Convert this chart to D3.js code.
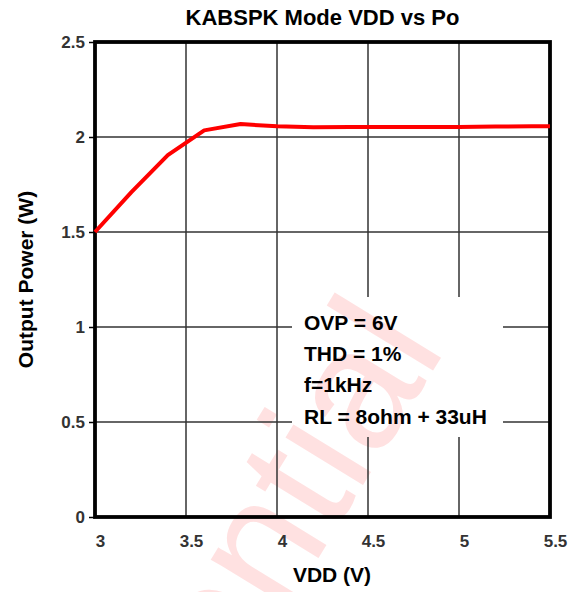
<!DOCTYPE html>
<html>
<head>
<meta charset="utf-8">
<script src="https://cdn.jsdelivr.net/npm/d3@7"></script>
<style>
  html, body { margin: 0; padding: 0; background: #fff; }
  svg { display: block; }
  text { font-family: "Liberation Sans", Arial, sans-serif; }
</style>
</head>
<body>
<div id="chart"></div>
<script>
// ---- data ----
const vdd = [3.0, 3.2, 3.4, 3.6, 3.8, 4.0, 4.2, 4.4, 4.6, 4.8, 5.0, 5.2, 5.4, 5.5];
const po  = [1.50, 1.71, 1.905, 2.035, 2.068, 2.056, 2.051, 2.052, 2.053, 2.053, 2.052, 2.055, 2.056, 2.056];
const xTicks = [3, 3.5, 4, 4.5, 5, 5.5];
const xTickLabels = ["3", "3.5", "4", "4.5", "5", "5.5"];
const yTicks = [0, 0.5, 1, 1.5, 2, 2.5];
const yTickLabels = ["0", "0.5", "1", "1.5", "2", "2.5"];
const title = "KABSPK Mode VDD vs Po";
const xTitle = "VDD (V)";
const yTitle = "Output Power (W)";
const notes = ["OVP = 6V", "THD = 1%", "f=1kHz", "RL = 8ohm + 33uH"];
const watermark = "Confidential";

// ---- layout ----
const W = 575, H = 592;
const L = 95, R = 550, T = 42, B = 517;

const svg = d3.select("#chart").append("svg")
  .attr("width", W).attr("height", H);

const x = d3.scaleLinear().domain([3, 5.5]).range([L, R]);
const y = d3.scaleLinear().domain([0, 2.5]).range([B, T]);

// annotation box region
const box = {x0: 292, x1: 503, y0: 297, y1: 437};

// watermark (behind everything)
svg.append("text")
  .attr("transform", "translate(447,348) rotate(-58.5)")
  .attr("text-anchor", "end")
  .style("font-size", "172px")
  .attr("fill", "#ffe1e1")
  .text(watermark);

// mask for gridlines (hidden behind annotation box)
const defs = svg.append("defs");
const mask = defs.append("mask").attr("id", "gridMask");
mask.append("rect").attr("x", 0).attr("y", 0).attr("width", W).attr("height", H).attr("fill", "#fff");
mask.append("rect").attr("x", box.x0).attr("y", box.y0)
  .attr("width", box.x1 - box.x0).attr("height", box.y1 - box.y0).attr("fill", "#000");

// gridlines
const grid = svg.append("g").attr("mask", "url(#gridMask)")
  .attr("stroke", "#333").attr("stroke-width", 1.5);
grid.selectAll("line.v").data(xTicks.slice(1, -1)).join("line")
  .attr("x1", d => x(d)).attr("x2", d => x(d))
  .attr("y1", T).attr("y2", B);
grid.selectAll("line.h").data(yTicks.slice(1, -1)).join("line")
  .attr("x1", L).attr("x2", R)
  .attr("y1", d => y(d)).attr("y2", d => y(d));

// y axis (ticks + labels)
const yAxis = svg.append("g").attr("transform", `translate(${L},0)`)
  .call(d3.axisLeft(y).tickValues(yTicks)
    .tickFormat((d, i) => yTickLabels[i]).tickSize(6).tickPadding(4));
yAxis.select(".domain").remove();
yAxis.selectAll(".tick line").attr("stroke", "#000").attr("stroke-width", 1.5);
yAxis.selectAll(".tick text")
  .attr("fill", "#333").style("font-size", "17px").style("font-weight", "bold")
  .style("font-family", "'Liberation Sans', Arial, sans-serif");

// x axis labels
const xAxis = svg.append("g").attr("transform", `translate(0,${B})`)
  .call(d3.axisBottom(x).tickValues(xTicks)
    .tickFormat((d, i) => xTickLabels[i]).tickSize(0).tickPadding(18));
xAxis.select(".domain").remove();
xAxis.selectAll(".tick text")
  .attr("dx", 5)
  .attr("fill", "#333").style("font-size", "17px").style("font-weight", "bold")
  .style("font-family", "'Liberation Sans', Arial, sans-serif");

// frame
svg.append("rect")
  .attr("x", L).attr("y", T).attr("width", R - L).attr("height", B - T)
  .attr("fill", "none").attr("stroke", "#000").attr("stroke-width", 3.8);

// data line
const line = d3.line().x((d, i) => x(vdd[i])).y(d => y(d));
svg.append("path")
  .datum(po)
  .attr("d", line)
  .attr("fill", "none")
  .attr("stroke", "#ff0000")
  .attr("stroke-width", 4)
  .attr("stroke-linejoin", "round");

// annotation text
svg.append("g").selectAll("text").data(notes).join("text")
  .attr("x", 304)
  .attr("y", (d, i) => 330 + i * 31.2)
  .style("font-size", "21px").style("font-weight", "bold")
  .attr("fill", "#000")
  .text(d => d);

// titles
svg.append("text")
  .attr("x", (L + R) / 2).attr("y", 25)
  .attr("text-anchor", "middle")
  .style("font-size", "22px").style("font-weight", "bold")
  .text(title);

svg.append("text")
  .attr("x", 332).attr("y", 582)
  .attr("text-anchor", "middle")
  .style("font-size", "21px").style("font-weight", "bold")
  .text(xTitle);

svg.append("text")
  .attr("transform", `translate(33,${(T + B) / 2}) rotate(-90)`)
  .attr("text-anchor", "middle")
  .style("font-size", "21px").style("font-weight", "bold")
  .text(yTitle);
</script>
</body>
</html>
